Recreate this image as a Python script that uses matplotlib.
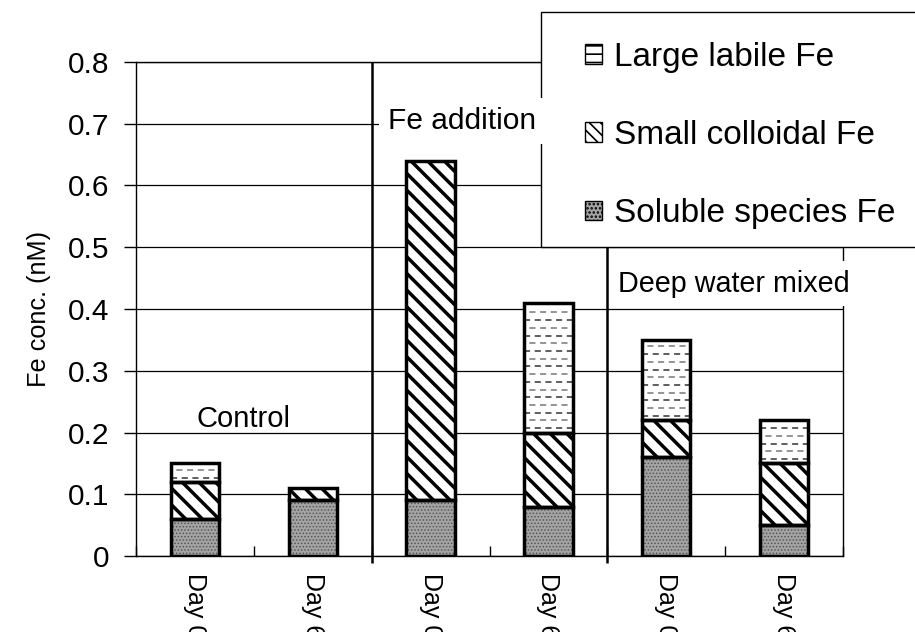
import numpy as np
import matplotlib.pyplot as plt
from matplotlib.patches import Rectangle, Patch

plt.rcParams['font.family'] = ['Liberation Sans', 'DejaVu Sans']

days = ['Day 0', 'Day 6', 'Day 0', 'Day 6', 'Day 0', 'Day 6']
soluble = np.array([0.06, 0.09, 0.09, 0.08, 0.16, 0.05])
colloidal = np.array([0.06, 0.02, 0.55, 0.12, 0.06, 0.10])
large = np.array([0.03, 0.0, 0.0, 0.21, 0.13, 0.07])
labels = ['Large labile Fe', 'Small colloidal Fe', 'Soluble species Fe']

x = np.arange(len(days))
w = 0.41

fig = plt.figure(figsize=(9.15, 6.32), dpi=100)
ax = fig.add_axes([136/915, 1 - 556/632, 707/915, 494/632])

# filled segments (hatch only, outlines drawn later)
plt.rcParams['hatch.linewidth'] = 0.7
ax.bar(x, soluble, w, color='#a4a4a4', edgecolor='#555555', hatch='.....', lw=0, zorder=2)
plt.rcParams['hatch.linewidth'] = 2.5
ax.bar(x, colloidal, w, bottom=soluble, color='white', edgecolor='black', hatch='\\\\', lw=0, zorder=2)
lbars = ax.bar(x, large, w, bottom=soluble + colloidal, color='white', lw=0, zorder=2)

# dashed fill for the large labile part
for b, bot, h in zip(lbars, soluble + colloidal, large):
    if h <= 0:
        continue
    ys = np.arange(bot + 0.007, bot + h - 0.003, 0.0125)
    styles = [(0, (4, 3)) if i % 2 == 0 else (3.5, (4, 3)) for i in range(len(ys))]
    cols = ['#333333' if i % 2 == 0 else '#777777' for i in range(len(ys))]
    lc = ax.hlines(ys, b.get_x(), b.get_x() + w, colors=cols,
                   linestyles=styles, lw=1.1, zorder=2.1)
    lc.set_clip_path(b)

# outlines
bottoms = [np.zeros(len(x)), soluble, soluble + colloidal]
for bot, h in zip(bottoms, [soluble, colloidal, large]):
    m = h > 0
    ax.bar(x[m], h[m], w, bottom=bot[m], fill=False, edgecolor='black', lw=2.5, zorder=3)

ax.set_xlim(-0.5, 5.5)
ax.set_ylim(0, 0.8)
ax.set_yticks(np.arange(0, 0.81, 0.1))
ax.set_yticklabels(['0', '0.1', '0.2', '0.3', '0.4', '0.5', '0.6', '0.7', '0.8'])
ax.yaxis.grid(True, color='black', lw=0.9)
ax.set_axisbelow(True)
ax.tick_params(axis='y', direction='out', length=9, width=1, labelsize=21.5, pad=10)

ax.set_xticks(np.arange(-0.5, 6, 1))
ax.set_xticklabels([])
ax.set_xticks(x, days, minor=True)
ax.tick_params(axis='x', which='major', direction='in', length=7, width=1)
ax.tick_params(axis='x', which='minor', length=0, labelsize=18, pad=12, labelrotation=-90)

for s in ax.spines.values():
    s.set_linewidth(1)

# group separators
ax.vlines([1.5, 3.5], -0.012, 0.8, colors='black', lw=1.8, clip_on=False, zorder=4)

ax.set_ylabel('Fe conc. (nM)', fontsize=18.2, labelpad=12)

ax.text(0.41, 0.222, 'Control', ha='center', va='center', fontsize=21, zorder=5)
ax.text(4.57, 0.441, 'Deep water mixed', ha='center', va='center', fontsize=20.7, zorder=5,
        bbox=dict(boxstyle='square,pad=0.3', fc='white', ec='none'))

# legend box
fig.add_artist(Rectangle((541/915, 1 - 247/632), 0.5, 235/632, transform=fig.transFigure,
                         fc='white', ec='black', lw=1, zorder=5))
fig.text(2.27, 0.705, 'Fe addition', transform=ax.transData, ha='center', va='center',
         fontsize=21.5, zorder=7, bbox=dict(boxstyle='square,pad=0.3', fc='white', ec='none'))

plt.rcParams['hatch.linewidth'] = 1.2
handles = [Patch(fc='white', ec='black', hatch='--'),
           Patch(fc='white', ec='black', hatch='\\\\\\'),
           Patch(fc='#a4a4a4', ec='black', hatch='....')]
leg = fig.legend(handles, labels, loc='upper left', bbox_to_anchor=(568/915, 1 - 25/632),
                 frameon=False, fontsize=24, handlelength=0.52, handleheight=0.52,
                 handletextpad=0.35, labelspacing=1.42, borderpad=0)
leg.set_zorder(6)

fig.savefig('out.png', dpi=100)
